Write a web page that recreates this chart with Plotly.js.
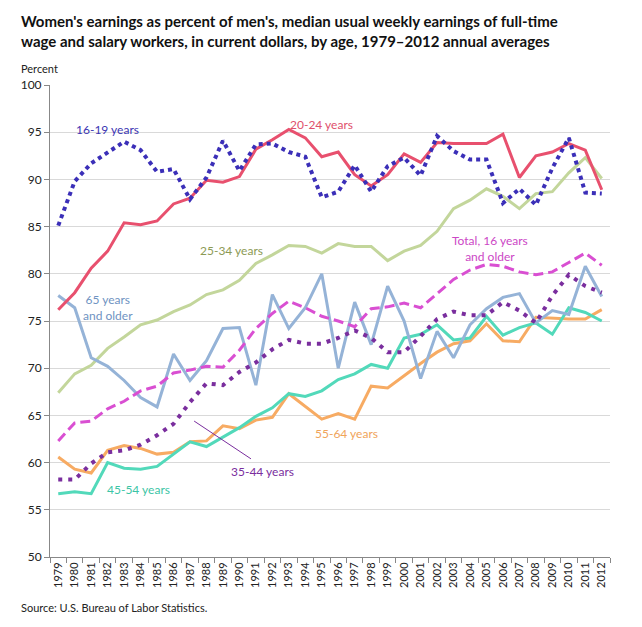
<!DOCTYPE html>
<html>
<head>
<meta charset="utf-8">
<script src="https://cdn.plot.ly/plotly-3.0.1.min.js"></script>
<style>
  body { margin: 0; background: #fff; }
  #chart { width: 642px; height: 627px; }
</style>
</head>
<body>
<div id="chart"></div>
<script>
var years = [];
for (let y = 1979; y <= 2012; y++) years.push(String(y));

var total = [62.3, 64.2, 64.4, 65.7, 66.5, 67.6, 68.1, 69.5, 69.8, 70.2, 70.1, 71.9, 74.2, 75.8, 77.1, 76.4, 75.5,
  75.0, 74.4, 76.3, 76.5, 76.9, 76.4, 77.9, 79.4, 80.4, 81.0, 80.8, 80.2, 79.9, 80.2, 81.2, 82.2, 80.9];
var age1619 = [85.1, 89.8, 91.7, 92.9, 94.0, 93.1, 90.8, 91.1, 87.9, 90.2, 94.1, 90.9, 93.7, 93.8, 92.9, 92.4, 88.1,
  88.7, 91.5, 88.7, 91.4, 92.3, 90.4, 94.6, 93.0, 92.1, 92.1, 87.5, 89.0, 87.3, 91.2, 94.4, 88.6, 88.5];
var age2024 = [76.2, 78.0, 80.6, 82.4, 85.4, 85.2, 85.6, 87.4, 88.0, 89.9, 89.7, 90.3, 93.2, 94.2, 95.3, 94.4, 92.4,
  92.9, 90.5, 89.3, 90.5, 92.7, 91.8, 93.9, 93.8, 93.8, 93.8, 94.8, 90.2, 92.5, 92.9, 93.8, 93.1, 88.9];
var age2534 = [67.4, 69.4, 70.3, 72.1, 73.3, 74.6, 75.1, 76.0, 76.7, 77.8, 78.3, 79.3, 81.1, 82.0, 83.0, 82.9, 82.2,
  83.2, 82.9, 82.9, 81.4, 82.4, 83.0, 84.5, 86.9, 87.8, 89.0, 88.2, 86.9, 88.5, 88.7, 90.7, 92.3, 90.1];
var age3544 = [58.2, 58.2, 59.9, 61.1, 61.3, 61.9, 62.9, 64.1, 66.4, 68.4, 68.2, 69.6, 70.6, 72.0, 73.0, 72.6, 72.6,
  73.2, 74.0, 73.2, 71.7, 71.7, 73.4, 75.2, 76.0, 75.6, 75.6, 77.0, 76.1, 74.8, 77.7, 79.9, 78.7, 78.0];
var age4554 = [56.7, 56.9, 56.7, 60.0, 59.4, 59.3, 59.6, 60.9, 62.2, 61.7, 62.7, 63.7, 64.9, 65.8, 67.3, 67.0, 67.6,
  68.8, 69.4, 70.4, 70.0, 73.2, 73.6, 74.6, 73.0, 73.2, 75.5, 73.5, 74.3, 74.8, 73.6, 76.4, 75.9, 75.0];
var age5564 = [60.6, 59.3, 58.9, 61.3, 61.8, 61.5, 60.9, 61.1, 62.2, 62.3, 63.9, 63.6, 64.5, 64.8, 67.3, 65.9, 64.6,
  65.2, 64.6, 68.1, 67.9, 69.2, 70.5, 71.7, 72.6, 72.9, 74.7, 72.9, 72.8, 75.4, 75.3, 75.2, 75.2, 76.2];
var age65 = [77.7, 76.4, 71.1, 70.2, 68.7, 66.9, 65.9, 71.5, 68.7, 70.8, 74.2, 74.3, 68.2, 77.8, 74.2, 76.4, 80.0,
  70.0, 77.0, 72.5, 78.7, 75.0, 68.9, 73.9, 71.1, 74.6, 76.3, 77.5, 77.9, 74.8, 76.1, 75.7, 80.8, 77.6];

function line(name, ys, color, dash, width) {
  return {
    x: years, y: ys, name: name, type: 'scatter', mode: 'lines',
    line: {color: color, width: width || 3, dash: dash || 'solid'},
    hoverinfo: 'x+y+name'
  };
}

var data = [
  line('25-34 years', age2534, '#c3d69b'),
  line('55-64 years', age5564, '#f7ab63'),
  line('45-54 years', age4554, '#52d9ba'),
  line('65 years and older', age65, '#95b3d7'),
  line('35-44 years', age3544, '#7a2e9e', '4px,6px', 4),
  line('Total, 16 years and older', total, '#d94fd2', '10px,5px', 3),
  line('20-24 years', age2024, '#e8506e'),
  line('16-19 years', age1619, '#3b2fb8', '4px,4px', 4)
];

var fnt = 'Lato, "Open Sans", sans-serif';

function lab(text, x, y, color) {
  return {text: text, x: x, y: y, xref: 'x', yref: 'y', showarrow: false,
    font: {family: fnt, size: 12, color: color}};
}

var layout = {
  width: 642, height: 627,
  margin: {l: 50, r: 32, t: 85, b: 70},
  paper_bgcolor: '#fff', plot_bgcolor: '#fff',
  showlegend: false,
  font: {family: fnt, size: 11, color: '#222'},
  xaxis: {
    type: 'category', range: [-0.5, 33.5],
    tickangle: -90, tickson: 'boundaries', ticks: 'outside', ticklen: 5,
    tickcolor: '#888', showline: true, linecolor: '#888', showgrid: false,
    tickfont: {family: fnt, size: 11, color: '#222'}, zeroline: false
  },
  yaxis: {
    range: [50, 100], dtick: 5, ticks: 'outside', ticklen: 5, tickcolor: '#888',
    showline: true, linecolor: '#888', gridcolor: '#d9d9d9', zeroline: false,
    tickfont: {family: fnt, size: 12, color: '#222'}
  },
  shapes: [
    {type: 'line', xref: 'x', yref: 'y', x0: 8.25, y0: 64.4, x1: 11.7, y1: 60.4,
      line: {color: '#7a2e9e', width: 1}}
  ],
  annotations: [
    {text: "<b>Women's earnings as percent of men's, median usual weekly earnings of full-time<br>wage and salary workers, in current dollars, by age, 1979–2012 annual averages</b>",
      xref: 'paper', yref: 'paper', x: -0.055, y: 1.114, xanchor: 'left', yanchor: 'middle', align: 'left',
      showarrow: false, font: {family: fnt, size: 15, color: '#111'}},
    {text: 'Percent', xref: 'paper', yref: 'paper', x: -0.055, y: 1.035, xanchor: 'left', yanchor: 'middle',
      showarrow: false, font: {family: fnt, size: 11, color: '#222'}},
    {text: 'Source: U.S. Bureau of Labor Statistics.', xref: 'paper', yref: 'paper', x: -0.055, y: -0.106,
      xanchor: 'left', yanchor: 'middle', showarrow: false, font: {family: fnt, size: 11, color: '#222'}},
    lab('16-19 years', 3.0, 95.3, '#3b35b3'),
    lab('20-24 years', 16.0, 95.8, '#e0506c'),
    lab('25-34 years', 10.5, 82.5, '#8c9a55'),
    lab('Total, 16 years<br>and older', 26.2, 82.7, '#cc47c6'),
    lab('65 years<br>and older', 3.0, 76.4, '#6f93c2'),
    lab('55-64 years', 17.5, 63.1, '#f0a45a'),
    lab('35-44 years', 12.4, 59.1, '#7a2e9e'),
    lab('45-54 years', 4.9, 57.1, '#3cc5a6')
  ]
};

Plotly.newPlot('chart', data, layout, {displayModeBar: false});
</script>
</body>
</html>
